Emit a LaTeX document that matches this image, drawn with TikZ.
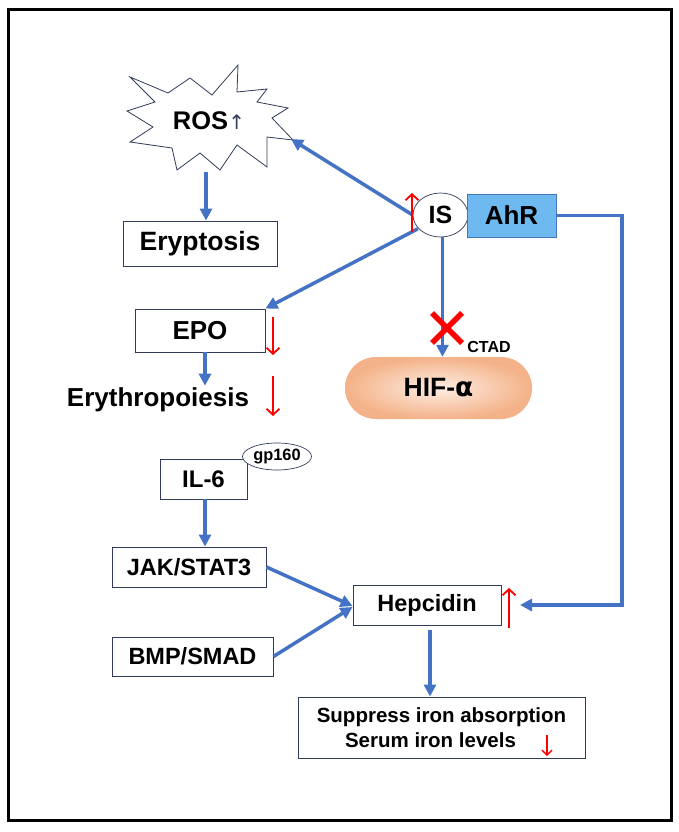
\documentclass[tikz,border=0pt]{standalone}
\usepackage{fontspec}
\setmainfont{Liberation Sans}
\newfontfamily\symfont{DejaVu Sans}
\usetikzlibrary{arrows.meta,shapes.geometric,calc}
\definecolor{ablue}{RGB}{68,114,196}
\definecolor{ared}{RGB}{255,0,0}
\definecolor{boxline}{RGB}{50,60,90}
\definecolor{ahrfill}{RGB}{110,185,240}
\definecolor{hifin}{RGB}{253,238,228}
\definecolor{hifout}{RGB}{244,178,136}
\newcommand{\fsz}[1]{\fontsize{#1}{#1}\selectfont\bfseries}
\begin{document}
\begin{tikzpicture}[x=1pt,y=-1pt,
  box/.style={draw=boxline,line width=0.9pt,fill=white,inner sep=0pt,font=\fsz{23.5}},
  lbl/.style={inner sep=0pt,font=\fsz{26}},
  barrow/.style={draw=ablue,line width=3.5pt,-{Triangle[length=12pt,width=12pt]}},
  rarrow/.style={draw=ared,line width=1.8pt,-{Straight Barb[length=6pt,width=13pt]}},
  oval/.style={ellipse,draw=boxline,line width=0.7pt,fill=white,inner sep=0pt},
]
\useasboundingbox (0,0) rectangle (678,832);
\draw[line width=3pt] (8.5,9.5) rectangle (671,820);

% ROS star
\draw[draw=boxline,line width=0.8pt,fill=white]
  (130,77) -- (168,93) -- (190,78) -- (212,95) -- (238,65) -- (237,92) -- (267,89) -- (257,102)
  -- (288,108) -- (272,118) -- (293,140) -- (267,137) -- (267,167) -- (237,145) -- (220,170)
  -- (200,153) -- (177,170) -- (172,148) -- (130,142) -- (153,127) -- (127,111) -- (155,102) -- cycle;
\node[lbl,font=\fsz{25.5}] (ros) at (209,121) {ROS{\symfont\mdseries\fontsize{20}{20}\selectfont\color{boxline}↑}};
\coordinate (starbot) at (206,172);
\coordinate (starright) at (291,139);

% nodes
\node[box,minimum width=154pt,minimum height=45pt,font=\fsz{26.5}] (eryp) at (200,243.5) {Eryptosis};
\node[oval,minimum width=55pt,minimum height=44pt,font=\fsz{25}] (is) at (440.5,215) {IS};
\node[box,fill=ahrfill,draw={rgb,255:red,70;green,120;blue,190},minimum width=89pt,minimum height=43pt,font=\fsz{26}] (ahr) at (511.5,215.5) {AhR};
\node[box,minimum width=130pt,minimum height=43pt,font=\fsz{26}] (epo) at (200,330.5) {EPO};
\node[lbl] (eryth) at (158,400) {Erythropoiesis};
\node[rounded corners=31pt,inner color=hifin,outer color=hifout,minimum width=187pt,minimum height=62pt,
  inner sep=0pt,font=\fsz{26.5}] (hif) at (438.5,388) {HIF-{\symfont α}};
\node[inner sep=0pt,font=\fsz{16}] (ctad) at (489,347) {CTAD};
\node[box,minimum width=87pt,minimum height=40pt,font=\fsz{24}] (il6) at (203.5,479) {IL-6};
\node[oval,minimum width=69pt,minimum height=27pt,font=\fsz{16.4}] (gp) at (277,456.5) {gp160};
\node[box,minimum width=154pt,minimum height=40pt] (jak) at (189,567) {JAK/STAT3};
\node[box,minimum width=161pt,minimum height=39pt] (bmp) at (192.5,656.5) {BMP/SMAD};
\node[box,minimum width=148pt,minimum height=40pt] (hep) at (427,605) {Hepcidin};
\node[box,minimum width=287pt,minimum height=61pt,align=center,font=\fontsize{20.5}{25}\selectfont\bfseries] (bot) at (441.5,727.5) {Suppress iron absorption\\Serum iron levels\hspace{22pt}\mbox{}};

% blue connectors
\draw[barrow] (starbot) -- (starbot |- eryp.north);
\draw[barrow] (is.west) -- (starright);
\draw[barrow] ([xshift=-3pt,yshift=2pt]is.south west) -- (epo.north east);
\draw[barrow] ([xshift=2pt]is.south) -- ([xshift=2pt]is.south |- hif.north);
\draw[barrow] ([xshift=5pt]epo.south) -- ([xshift=5pt,yshift=2pt]epo.south |- eryth.north);
\draw[barrow] ([xshift=1.5pt]il6.south) -- ([xshift=1.5pt]il6.south |- jak.north);
\draw[barrow] (jak.east) -- ([yshift=-1pt]hep.west);
\draw[barrow] (bmp.east) -- ([yshift=-2pt]hep.west);
\coordinate (loopc) at (622,605);
\coordinate (heptip) at (520,605);
\draw[barrow] (ahr.east) -| (loopc) -- (heptip);
\draw[barrow] ([xshift=3pt,yshift=-5pt]hep.south) -- ([xshift=3pt]hep.south |- bot.north);

% red markers
\draw[rarrow] (412,232) -- (412,193);
\draw[rarrow] (273,317) -- (273,355);
\draw[rarrow] (273,376) -- (273,416);
\draw[rarrow] (509,628) -- (509,588);
\draw[draw=ared,line width=1.4pt,-{Straight Barb[length=5pt,width=10pt]}] (547,735) -- (547,756);
\draw[ared,line width=5.5pt] (432,313) -- (462,343) (432,343) -- (462,313);
\end{tikzpicture}
\end{document}
